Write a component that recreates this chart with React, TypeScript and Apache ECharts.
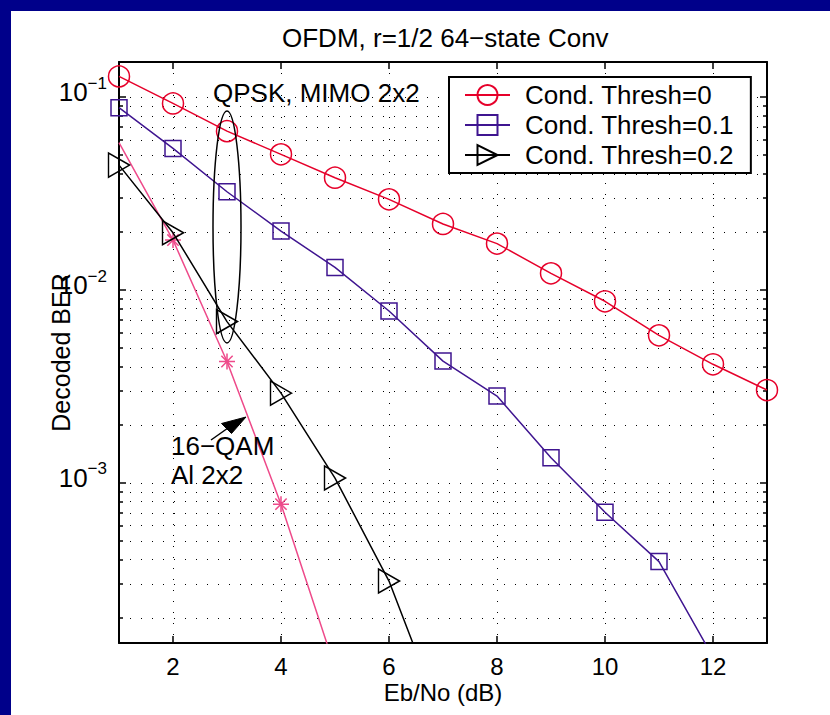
import React, { useEffect, useRef } from 'react';
import * as echarts from 'echarts';

// Eb/No (dB) sample points
const ebno = [1, 2, 3, 4, 5, 6, 7, 8, 9, 10, 11, 12, 13];
// Decoded BER, QPSK MIMO 2x2, Cond. Thresh=0
const berThresh0 = [0.128, 0.0927, 0.0666, 0.0505, 0.0382, 0.0295, 0.022, 0.0174, 0.0122, 0.00874, 0.00582, 0.00412, 0.00303];
// Cond. Thresh=0.1
const berThresh01 = [0.0881, 0.0542, 0.0323, 0.0202, 0.0131, 0.00778, 0.00428, 0.00282, 0.00135, 0.000705, 0.000391, 0.000125];
// Cond. Thresh=0.2
const berThresh02 = [0.0444, 0.0198, 0.00686, 0.00292, 0.00106, 0.00031, 0.000058];
// 16-QAM Al 2x2
const ber16qam = [0.058, 0.01815, 0.00426, 0.000776, 0.00011];

const seriesNames = ['Cond. Thresh=0', 'Cond. Thresh=0.1', 'Cond. Thresh=0.2', '16−QAM Al 2x2'];
const xTicks = [2, 4, 6, 8, 10, 12];
const yMajorTicks = [1e-3, 1e-2, 1e-1];
const yMinorTicks = [
  2e-4, 3e-4, 4e-4, 5e-4, 6e-4, 7e-4, 8e-4, 9e-4,
  2e-3, 3e-3, 4e-3, 5e-3, 6e-3, 7e-3, 8e-3, 9e-3,
  2e-2, 3e-2, 4e-2, 5e-2, 6e-2, 7e-2, 8e-2, 9e-2,
];
const X_MIN = 1;
const X_MAX = 13;
const Y_MIN = 1.48e-4;
const Y_MAX = 0.152;

const FONT = '"Liberation Sans", Arial, Helvetica, sans-serif';
const RED = '#e6002a';
const PURPLE = '#3f1590';
const BLACK = '#000000';
const PINK = '#ee4a8a';
const STAR = 'path://M0,8L16,8M8,0L8,16M2.34,2.34L13.66,13.66M13.66,2.34L2.34,13.66';

const dotted = { type: [1, 10] as any, color: '#000', width: 1 };

function pairs(ys: number[]) {
  return ys.map((y, i) => [ebno[i], y]);
}

export default function App() {
  const ref = useRef<HTMLDivElement>(null);

  useEffect(() => {
    document.body.style.margin = '0';
    if (!ref.current) return;
    const chart = echarts.init(ref.current, undefined, { renderer: 'svg' });

    const logAxisBase = {
      type: 'log' as const,
      logBase: 10,
      min: Y_MIN,
      max: Y_MAX,
      gridIndex: 0,
    };

    const qamData: any[] = pairs(ber16qam);
    qamData[0] = { value: qamData[0], symbol: 'none' };

    chart.setOption({
      animation: false,
      title: {
        text: 'OFDM, r=1/2 64−state Conv',
        left: 282,
        top: 25,
        padding: 0,
        textStyle: { fontSize: 26, fontWeight: 'normal', color: '#000', fontFamily: FONT },
      },
      grid: { left: 119, top: 62, width: 648, height: 581, show: false },
      legend: {
        data: seriesNames.slice(0, 3),
        orient: 'vertical',
        left: 449,
        top: 77,
        padding: [3, 17, 3, 15],
        itemGap: 0,
        itemWidth: 45,
        itemHeight: 25,
        borderColor: '#000',
        borderWidth: 2,
        backgroundColor: '#fff',
        selectedMode: false,
        textStyle: { fontSize: 26, lineHeight: 30, color: '#000', fontFamily: FONT, padding: [0, 0, 0, 10] },
      },
      xAxis: [
        {
          type: 'value',
          min: X_MIN,
          max: X_MAX,
          position: 'bottom',
          name: 'Eb/No (dB)',
          nameLocation: 'middle',
          nameGap: 37,
          nameMoveOverlap: false,
          nameTextStyle: { fontSize: 24, lineHeight: 24, color: '#000', fontFamily: FONT },
          axisLine: { show: true, onZero: false, lineStyle: { color: '#000', width: 2 } },
          axisTick: { show: true, inside: true, length: 7, customValues: xTicks, lineStyle: { color: '#000', width: 1.5 } },
          axisLabel: { customValues: xTicks, fontSize: 24, lineHeight: 24, color: '#000', fontFamily: FONT, margin: 11 },
          splitLine: { show: true, lineStyle: dotted },
        },
        {
          type: 'value',
          min: X_MIN,
          max: X_MAX,
          position: 'top',
          axisLine: { show: true, onZero: false, lineStyle: { color: '#000', width: 2 } },
          axisTick: { show: true, inside: true, length: 7, customValues: xTicks, lineStyle: { color: '#000', width: 1.5 } },
          axisLabel: { show: false },
          splitLine: { show: false },
        },
      ],
      yAxis: [
        {
          ...logAxisBase,
          position: 'left',
          name: 'Decoded BER',
          nameLocation: 'middle',
          nameGap: 46,
          nameMoveOverlap: false,
          nameTextStyle: { fontSize: 25, color: '#000', fontFamily: FONT },
          axisLine: { show: true, onZero: false, lineStyle: { color: '#000', width: 2 } },
          axisTick: { show: true, inside: true, length: 7, customValues: yMajorTicks, lineStyle: { color: '#000', width: 1.5 } },
          axisLabel: {
            customValues: yMajorTicks,
            margin: 12,
            formatter: (v: number) => `{b|10}{s|−${Math.round(-Math.log10(v))}}`,
            rich: {
              b: { fontSize: 26, lineHeight: 25, padding: [0, 0, 10, 0], color: '#000', fontFamily: FONT },
              s: { fontSize: 17, lineHeight: 17, padding: [0, 0, 28, 0], color: '#000', fontFamily: FONT },
            },
          },
          splitLine: { show: true, lineStyle: dotted },
        },
        {
          ...logAxisBase,
          position: 'left',
          axisLine: { show: false },
          axisTick: { show: true, inside: true, length: 4, customValues: yMinorTicks, lineStyle: { color: '#000', width: 1.5 } },
          axisLabel: { show: false },
          splitLine: { show: true, lineStyle: dotted },
        },
        {
          ...logAxisBase,
          position: 'right',
          axisLine: { show: true, onZero: false, lineStyle: { color: '#000', width: 2 } },
          axisTick: { show: true, inside: true, length: 7, customValues: yMajorTicks, lineStyle: { color: '#000', width: 1.5 } },
          axisLabel: { show: false },
          splitLine: { show: false },
        },
        {
          ...logAxisBase,
          position: 'right',
          axisLine: { show: false },
          axisTick: { show: true, inside: true, length: 4, customValues: yMinorTicks, lineStyle: { color: '#000', width: 1.5 } },
          axisLabel: { show: false },
          splitLine: { show: false },
        },
      ],
      series: [
        {
          name: seriesNames[3],
          type: 'line',
          xAxisIndex: 0,
          yAxisIndex: 0,
          data: qamData,
          symbol: STAR,
          symbolSize: 16,
          lineStyle: { color: PINK, width: 1.5 },
          itemStyle: { color: 'rgba(0,0,0,0)', borderColor: PINK, borderWidth: 1.5 },
          clip: true,
          z: 2,
        },
        {
          name: seriesNames[2],
          type: 'line',
          xAxisIndex: 0,
          yAxisIndex: 0,
          data: pairs(berThresh02),
          symbol: 'triangle',
          symbolSize: [24, 21],
          symbolRotate: -90,
          lineStyle: { color: BLACK, width: 1.5 },
          itemStyle: { color: 'rgba(0,0,0,0)', borderColor: BLACK, borderWidth: 1.5 },
          clip: true,
          z: 3,
        },
        {
          name: seriesNames[1],
          type: 'line',
          xAxisIndex: 0,
          yAxisIndex: 0,
          data: pairs(berThresh01),
          symbol: 'rect',
          symbolSize: 16,
          lineStyle: { color: PURPLE, width: 1.5 },
          itemStyle: { color: 'rgba(0,0,0,0)', borderColor: PURPLE, borderWidth: 1.5 },
          clip: true,
          z: 4,
        },
        {
          name: seriesNames[0],
          type: 'line',
          xAxisIndex: 0,
          yAxisIndex: 0,
          data: pairs(berThresh0),
          symbol: 'circle',
          symbolSize: 21,
          lineStyle: { color: RED, width: 1.5 },
          itemStyle: { color: 'rgba(0,0,0,0)', borderColor: RED, borderWidth: 1.5 },
          clip: false,
          z: 5,
        },
      ],
      graphic: [
        {
          type: 'ellipse',
          shape: { cx: 227, cy: 227, rx: 14, ry: 116 },
          style: { fill: 'none', stroke: '#000', lineWidth: 1.5 },
          z: 10,
        },
        {
          type: 'text',
          x: 213,
          y: 93,
          style: { text: 'QPSK, MIMO 2x2', fontSize: 26, fontFamily: FONT, fill: '#000', verticalAlign: 'middle', textVerticalAlign: 'middle' },
          z: 10,
        },
        {
          type: 'text',
          x: 171,
          y: 446,
          style: { text: '16−QAM', fontSize: 26, fontFamily: FONT, fill: '#000', verticalAlign: 'middle', textVerticalAlign: 'middle' },
          z: 10,
        },
        {
          type: 'text',
          x: 171,
          y: 475,
          style: { text: 'Al 2x2', fontSize: 26, fontFamily: FONT, fill: '#000', verticalAlign: 'middle', textVerticalAlign: 'middle' },
          z: 10,
        },
        {
          type: 'line',
          shape: { x1: 211, y1: 440, x2: 228, y2: 428 },
          style: { stroke: '#000', lineWidth: 1.5 },
          z: 10,
        },
        {
          type: 'polygon',
          shape: { points: [[246, 417], [221.5, 423.5], [231.5, 433.5]] },
          style: { fill: '#000', stroke: '#000', lineWidth: 1 },
          z: 10,
        },
      ],
    });

    return () => chart.dispose();
  }, []);

  return (
    <div style={{ position: 'relative', width: 830, height: 715, background: '#00008a', overflow: 'hidden' }}>
      <div style={{ position: 'absolute', left: 11, top: 11, right: 0, bottom: 0, background: '#ffffff' }} />
      <div ref={ref} style={{ position: 'absolute', left: 0, top: 0, width: 830, height: 715 }} />
    </div>
  );
}
